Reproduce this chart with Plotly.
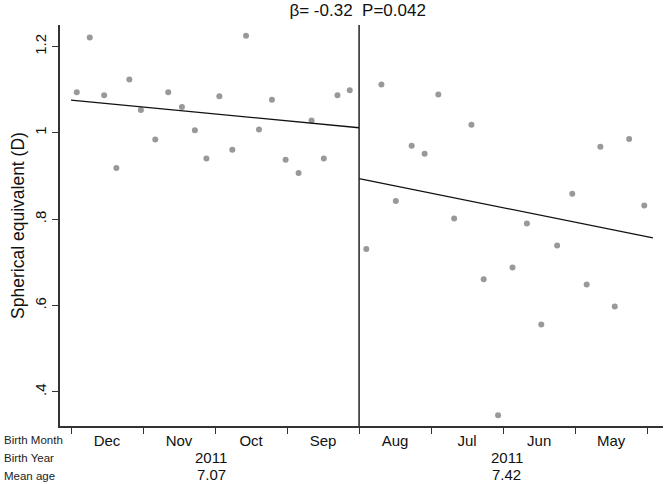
import plotly.graph_objects as go

# Birth-month position (1 unit = one month, Dec at left)
x_left = [0.08, 0.26, 0.46, 0.63, 0.81, 0.97, 1.17, 1.35, 1.54, 1.72, 1.88, 2.06,
          2.24, 2.43, 2.61, 2.79, 2.98, 3.16, 3.34, 3.51, 3.70, 3.87]
y_left = [1.094, 1.221, 1.087, 0.919, 1.124, 1.053, 0.985, 1.094, 1.060, 1.006, 0.941, 1.085,
          0.961, 1.225, 1.008, 1.077, 0.938, 0.907, 1.029, 0.941, 1.087, 1.099]
x_right = [4.10, 4.31, 4.51, 4.73, 4.91, 5.10, 5.32, 5.56, 5.73, 5.93,
           6.13, 6.33, 6.53, 6.75, 6.96, 7.16, 7.35, 7.55, 7.75, 7.96]
y_right = [0.731, 1.112, 0.842, 0.970, 0.952, 1.089, 0.802, 1.019, 0.661, 0.346,
           0.688, 0.790, 0.556, 0.739, 0.859, 0.649, 0.968, 0.598, 0.986, 0.832]

# fitted lines
fit_left_x = [0, 4]
fit_left_y = [1.076, 1.012]
fit_right_x = [4, 8.08]
fit_right_y = [0.894, 0.757]

months = ["Dec", "Nov", "Oct", "Sep", "Aug", "Jul", "Jun", "May"]
month_pos = [0.5, 1.5, 2.5, 3.5, 4.5, 5.5, 6.5, 7.5]
birth_year = ["2011", "2011"]
mean_age = ["7.07", "7.42"]
group_pos = [1.95, 6.05]
yticks = [0.4, 0.6, 0.8, 1.0, 1.2]
yticklabels = [".4", ".6", ".8", "1", "1.2"]

font = "Liberation Sans, Arial, sans-serif"
dot = dict(color="#999999", size=6)

fig = go.Figure()
fig.add_trace(go.Scatter(x=x_left, y=y_left, mode="markers", marker=dot, showlegend=False))
fig.add_trace(go.Scatter(x=x_right, y=y_right, mode="markers", marker=dot, showlegend=False))
fig.add_trace(go.Scatter(x=fit_left_x, y=fit_left_y, mode="lines",
                         line=dict(color="#111111", width=1.3), showlegend=False))
fig.add_trace(go.Scatter(x=fit_right_x, y=fit_right_y, mode="lines",
                         line=dict(color="#111111", width=1.3), showlegend=False))

# divider between the two birth-year groups
fig.add_shape(type="line", xref="x", yref="paper", x0=4, x1=4, y0=0, y1=1,
              line=dict(color="#222222", width=1.5))

# row labels under the axis
rows = ["Birth Month", "Birth Year", "Mean age"]
for i, r in enumerate(rows):
    fig.add_annotation(text=r, xref="paper", yref="paper", x=-0.097, y=-0.034 - i * 0.045,
                       xanchor="left", yanchor="middle", showarrow=False,
                       font=dict(size=11.5, color="#222222", family=font))
for gx, yr, ag in zip(group_pos, birth_year, mean_age):
    fig.add_annotation(text=yr, x=gx, xref="x", yref="paper", y=-0.078,
                       yanchor="middle", showarrow=False,
                       font=dict(size=15, color="#111111", family=font))
    fig.add_annotation(text=ag, x=gx, xref="x", yref="paper", y=-0.121,
                       yanchor="middle", showarrow=False,
                       font=dict(size=15, color="#111111", family=font))

fig.update_layout(
    width=666, height=484,
    margin=dict(l=60, r=3, t=25, b=58),
    paper_bgcolor="white", plot_bgcolor="white",
    font=dict(family=font, color="#111111", size=15),
    title=dict(text="β= -0.32\u00a0\u00a0P=0.042", x=0.537, xanchor="center", y=0.979,
               yanchor="middle", font=dict(size=17, family=font, color="#111111")),
    xaxis=dict(range=[-0.153, 8.22], showgrid=False, zeroline=False,
               showline=True, linecolor="#333333", linewidth=1.5,
               tickmode="array", tickvals=month_pos, ticktext=months, ticks="",
               ticklabelstandoff=0,
               minor=dict(tick0=0, dtick=1, ticks="outside", ticklen=6,
                          tickcolor="#333333", tickwidth=1.2, showgrid=False)),
    yaxis=dict(range=[0.321, 1.25], showgrid=False, zeroline=False,
               showline=True, linecolor="#333333", linewidth=1.5,
               tickmode="array", tickvals=yticks, ticktext=yticklabels,
               ticks="outside", ticklen=6, tickcolor="#333333", tickangle=-90,
               title=dict(text="Spherical equivalent (D)", standoff=3,
                          font=dict(size=17.5, family=font))),
)

# drop the default page margin so the chart starts at the window corner
fig.write_html("out.html", config={"displayModeBar": False},
               post_script="document.body.style.margin='0';")
